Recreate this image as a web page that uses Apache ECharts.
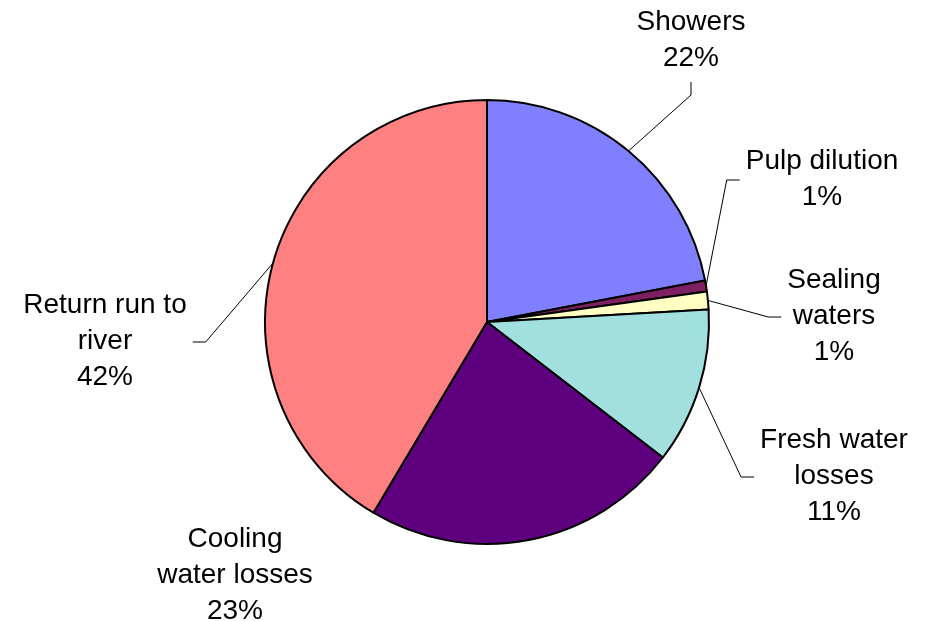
<!DOCTYPE html>
<html>
<head>
<meta charset="utf-8">
<script src="https://cdn.jsdelivr.net/npm/echarts@6/dist/echarts.min.js"></script>
<style>html,body{margin:0;padding:0;background:#fff;}#chart{width:926px;height:621px;}</style>
</head>
<body>
<div id="chart"></div>
<script>
const categories = ['Showers', 'Pulp dilution', 'Sealing waters', 'Fresh water losses', 'Cooling water losses', 'Return run to river'];
const labelTexts = ['Showers', 'Pulp dilution', 'Sealing\nwaters', 'Fresh water\nlosses', 'Cooling\nwater losses', 'Return run to\nriver'];
const values = [22.0, 0.8, 1.3, 11.35, 23.1, 41.45];
const colors = ['#8080FF', '#7E1F62', '#FFFFC4', '#A2E0E0', '#5F007F', '#FF8080'];

// label layout (block centers) and leader-line attachment side
const labelPos = [[691, 40], [822, 179], [834, 316], [834, 476], [235, 575], [105, 341]];
const leaderSide = ['bottom', 'left', 'left', 'left', null, 'right'];
const gap = 6, elbowLen = 13;

const chart = echarts.init(document.getElementById('chart'));
const data = categories.map((c, i) => ({
  name: c,
  value: values[i],
  itemStyle: { color: colors[i] },
  labelLine: { show: leaderSide[i] !== null }
}));

chart.setOption({
  backgroundColor: '#ffffff',
  animation: false,
  series: [{
    type: 'pie',
    center: [487, 322],
    radius: 222,
    startAngle: 90,
    clockwise: true,
    percentPrecision: 0,
    avoidLabelOverlap: false,
    data: data,
    itemStyle: { borderColor: '#000', borderWidth: 2 },
    label: {
      show: true,
      position: 'outside',
      color: '#000',
      fontFamily: 'Liberation Sans, Arial, sans-serif',
      fontSize: 28,
      lineHeight: 36,
      align: 'center',
      formatter: function (p) {
        return labelTexts[p.dataIndex] + '\n' + p.percent + '%';
      }
    },
    labelLine: { show: true, lineStyle: { color: '#000', width: 1 }, length: 10, length2: 10 },
    labelLayout: function (p) {
      const i = p.dataIndex;
      const pos = labelPos[i];
      const w = p.labelRect.width, h = p.labelRect.height;
      const res = { x: pos[0], y: pos[1], align: 'center', verticalAlign: 'middle' };
      const side = leaderSide[i];
      if (side && p.labelLinePoints) {
        const a = p.labelLinePoints[0];
        let end, elbow;
        if (side === 'left') {
          end = [pos[0] - w / 2 - gap, pos[1] + 1];
          elbow = [end[0] - elbowLen, end[1]];
        } else if (side === 'right') {
          end = [pos[0] + w / 2 + gap, pos[1] + 1];
          elbow = [end[0] + elbowLen, end[1]];
        } else {
          end = [pos[0], pos[1] + h / 2 + gap];
          elbow = [end[0], end[1] + elbowLen];
        }
        res.labelLinePoints = [[a[0], a[1]], elbow, end];
      }
      return res;
    },
    emphasis: { disabled: true }
  }]
});
</script>
</body>
</html>
